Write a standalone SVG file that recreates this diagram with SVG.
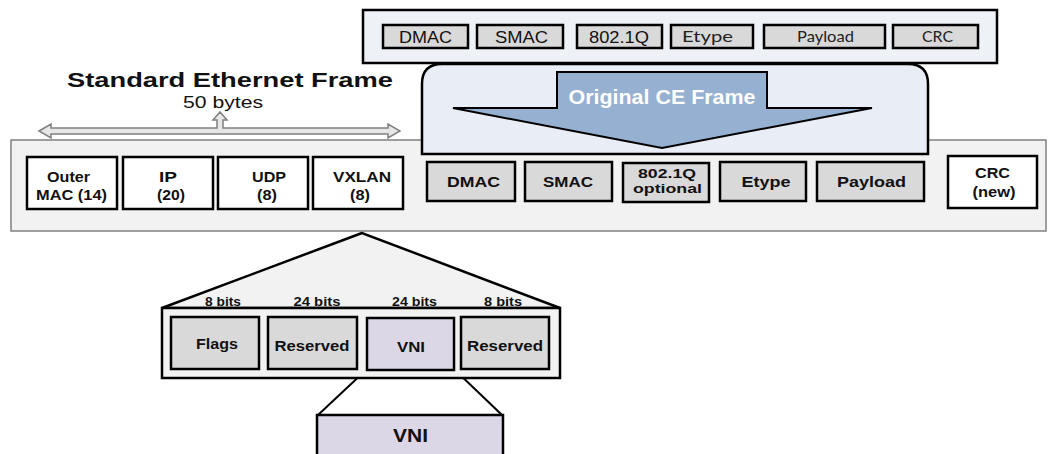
<svg xmlns="http://www.w3.org/2000/svg" width="1048" height="454" viewBox="0 0 1048 454">
<style>
  .box { fill: #d9d9d9; stroke: #000; stroke-width: 2.5; }
  .wbox { fill: #ffffff; stroke: #000; stroke-width: 2.5; }
  .vni { fill: #dcd7e6; stroke: #000; stroke-width: 2.5; }
  .t { font-family: "Liberation Sans", Arial, sans-serif; fill: #111; text-anchor: middle; }
  .b { font-weight: bold; }
  .cal { font-family: Lato, "Liberation Sans", sans-serif; fill: #222; text-anchor: middle; }
  .ln { stroke: #000; stroke-width: 2; fill: none; }
</style>
<rect width="1048" height="454" fill="#ffffff"/>

<!-- middle band (encapsulated frame) -->
<g id="vxlan-frame">
  <rect x="11" y="140" width="1035" height="91" fill="#f2f2f2" stroke="#808080" stroke-width="1.5"/>
</g>

<!-- top original frame -->
<g id="original-frame">
  <rect x="363" y="10" width="634" height="53" fill="#eef1f6" stroke="#000" stroke-width="2.5"/>
  <g id="top-dmac"><rect class="box" x="383" y="25" width="85" height="23"/><text class="t" x="425.5" y="43" font-size="16" textLength="53" lengthAdjust="spacingAndGlyphs">DMAC</text></g>
  <g id="top-smac"><rect class="box" x="477" y="25" width="86" height="23"/><text class="t" x="521.5" y="43" font-size="16" textLength="53" lengthAdjust="spacingAndGlyphs">SMAC</text></g>
  <g id="top-8021q"><rect class="box" x="577" y="25" width="85" height="23"/><text class="t" x="619" y="43" font-size="16" textLength="60" lengthAdjust="spacingAndGlyphs">802.1Q</text></g>
  <g id="top-etype"><rect class="box" x="671" y="25" width="82" height="23"/><text class="cal" x="707.5" y="42" font-size="15" textLength="51" lengthAdjust="spacingAndGlyphs">Etype</text></g>
  <g id="top-payload"><rect class="box" x="764" y="25" width="121" height="23"/><text class="cal" x="825.5" y="42" font-size="15" textLength="57" lengthAdjust="spacingAndGlyphs">Payload</text></g>
  <g id="top-crc"><rect class="box" x="893" y="25" width="85" height="23"/><text class="cal" x="937.5" y="42" font-size="15" textLength="31" lengthAdjust="spacingAndGlyphs">CRC</text></g>
</g>

<!-- container with big arrow -->
<g id="ce-frame">
  <path d="M422,154 V84 Q422,64 442,64 H908 Q928,64 928,84 V154 Z" fill="#e9edf5" stroke="#000" stroke-width="2.5"/>
  <polygon points="557,72 767,72 767,108 872,108 662,148 453,108 557,108" fill="#95b0d0" stroke="#000" stroke-width="2"/>
  <text class="t b" x="662" y="104" font-size="20" style="fill:#ffffff" textLength="187" lengthAdjust="spacingAndGlyphs">Original CE Frame</text>
</g>

<!-- header -->
<g id="header">
  <text class="t b" x="230" y="87" font-size="21" textLength="326" lengthAdjust="spacingAndGlyphs">Standard Ethernet Frame</text>
  <text class="t" x="223" y="108" font-size="17" textLength="80" lengthAdjust="spacingAndGlyphs">50 bytes</text>
</g>

<!-- outer headers -->
<g id="outer-mac"><rect class="wbox" x="27" y="157" width="90" height="52"/>
  <text class="t b" x="68.5" y="182" font-size="14" textLength="43" lengthAdjust="spacingAndGlyphs">Outer</text>
  <text class="t b" x="71.5" y="200" font-size="14" textLength="71" lengthAdjust="spacingAndGlyphs">MAC (14)</text></g>
<g id="outer-ip"><rect class="wbox" x="123" y="157" width="90" height="52"/>
  <text class="t b" x="168" y="182" font-size="14" textLength="18" lengthAdjust="spacingAndGlyphs">IP</text>
  <text class="t b" x="171" y="200" font-size="14" textLength="28" lengthAdjust="spacingAndGlyphs">(20)</text></g>
<g id="outer-udp"><rect class="wbox" x="218" y="157" width="90" height="52"/>
  <text class="t b" x="269" y="182" font-size="14" textLength="34" lengthAdjust="spacingAndGlyphs">UDP</text>
  <text class="t b" x="267" y="200" font-size="14" textLength="20" lengthAdjust="spacingAndGlyphs">(8)</text></g>
<g id="outer-vxlan"><rect class="wbox" x="313" y="157" width="90" height="52"/>
  <text class="t b" x="362" y="182" font-size="14" textLength="58" lengthAdjust="spacingAndGlyphs">VXLAN</text>
  <text class="t b" x="360" y="200" font-size="14" textLength="20" lengthAdjust="spacingAndGlyphs">(8)</text></g>

<!-- inner original frame fields -->
<g id="in-dmac"><rect class="box" x="427" y="162" width="88" height="39"/><text class="t b" x="473.5" y="187" font-size="15" textLength="53" lengthAdjust="spacingAndGlyphs">DMAC</text></g>
<g id="in-smac"><rect class="box" x="525" y="162" width="87" height="39"/><text class="t b" x="568" y="187" font-size="15" textLength="50" lengthAdjust="spacingAndGlyphs">SMAC</text></g>
<g id="in-8021q"><rect class="box" x="623" y="163" width="86" height="39"/>
  <text class="t b" x="667" y="178" font-size="13" textLength="58" lengthAdjust="spacingAndGlyphs">802.1Q</text>
  <text class="t b" x="667.5" y="193" font-size="13" textLength="69" lengthAdjust="spacingAndGlyphs">optional</text></g>
<g id="in-etype"><rect class="box" x="720" y="162" width="86" height="39"/><text class="t b" x="766" y="187" font-size="15" textLength="49" lengthAdjust="spacingAndGlyphs">Etype</text></g>
<g id="in-payload"><rect class="box" x="817" y="162" width="107" height="39"/><text class="t b" x="871.5" y="187" font-size="15" textLength="69" lengthAdjust="spacingAndGlyphs">Payload</text></g>
<g id="crc-new"><rect class="wbox" x="948" y="156" width="89" height="52"/>
  <text class="t b" x="992.5" y="178" font-size="14" textLength="35" lengthAdjust="spacingAndGlyphs">CRC</text>
  <text class="t b" x="994" y="197" font-size="14" textLength="43" lengthAdjust="spacingAndGlyphs">(new)</text></g>

<!-- connectors -->
<g id="connectors">
  <polygon points="39,131 51,124 51,128 217,128 217,120 213,120 220,112 227,120 223,120 223,128 388,128 388,124 400,131 388,138 388,134 51,134 51,138" fill="#e6e6e6" stroke="#808080" stroke-width="1.5"/>
  <polygon points="362,233 162,308 560,308" fill="#f2f2f2" stroke="#000" stroke-width="2.5" stroke-linejoin="miter"/>
  <line class="ln" x1="366" y1="370" x2="318" y2="415"/>
  <line class="ln" x1="455" y1="370" x2="502" y2="415"/>
</g>

<!-- VXLAN header detail -->
<g id="vxlan-header">
  <rect x="162" y="308" width="398" height="70" fill="#f2f2f2" stroke="#000" stroke-width="2.5"/>
  <text class="t b" x="223" y="306" font-size="13" textLength="36" lengthAdjust="spacingAndGlyphs">8 bits</text>
  <text class="t b" x="317" y="306" font-size="13" textLength="47" lengthAdjust="spacingAndGlyphs">24 bits</text>
  <text class="t b" x="414.5" y="306" font-size="13" textLength="45" lengthAdjust="spacingAndGlyphs">24 bits</text>
  <text class="t b" x="503" y="306" font-size="13" textLength="38" lengthAdjust="spacingAndGlyphs">8 bits</text>
</g>
<g id="flags"><rect class="box" x="171" y="317" width="88" height="52"/><text class="t b" x="217" y="349" font-size="15" textLength="42" lengthAdjust="spacingAndGlyphs">Flags</text></g>
<g id="reserved1"><rect class="box" x="268" y="317" width="89" height="52"/><text class="t b" x="312" y="351" font-size="15" textLength="75" lengthAdjust="spacingAndGlyphs">Reserved</text></g>
<g id="vni-field"><rect class="vni" x="367" y="318" width="87" height="52"/><text class="t b" x="411" y="352" font-size="15" textLength="28" lengthAdjust="spacingAndGlyphs">VNI</text></g>
<g id="reserved2"><rect class="box" x="461" y="317" width="88" height="52"/><text class="t b" x="505" y="351" font-size="15" textLength="76" lengthAdjust="spacingAndGlyphs">Reserved</text></g>

<g id="vni-detail"><rect class="vni" x="317" y="415" width="186" height="50"/><text class="t b" x="410.5" y="442" font-size="18" textLength="35" lengthAdjust="spacingAndGlyphs">VNI</text></g>
</svg>
